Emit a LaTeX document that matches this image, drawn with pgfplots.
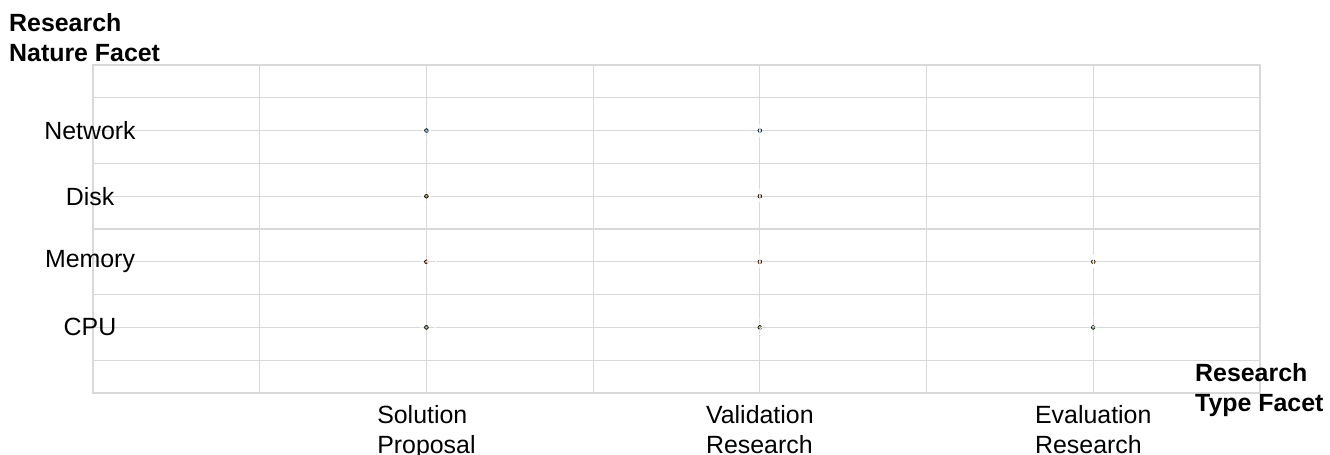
\documentclass[border=0pt]{standalone}
\usepackage{fontspec}
\setmainfont{Liberation Sans}
\usepackage{pgfplots}
\usepackage{pgfplotstable}
\pgfplotsset{compat=1.18}

\definecolor{gridgray}{RGB}{217,217,217}
\definecolor{netcol}{RGB}{60,130,200}
\definecolor{diskcol}{RGB}{120,90,20}
\definecolor{memcol}{RGB}{230,110,35}
\definecolor{cpucol}{RGB}{95,165,55}

% x = research type (1 solution, 2 validation, 3 evaluation), y = facet row, v = count, fs = label size
\pgfplotstableread{
x y v fs
1 2 15 52
2 2 2 28
3 2 3 32
}\cpudata
\pgfplotstableread{
x y v fs
1 4 10 56
2 4 1 21
3 4 1 21
}\memdata
\pgfplotstableread{
x y v fs
1 6 6 46
2 6 1 21
}\diskdata
\pgfplotstableread{
x y v fs
1 8 9 52
2 8 1 21
}\netdata

\pgfplotsset{
  bubble/.style={
    only marks, scatter, mark=ball,
    point meta=explicit,
    visualization depends on={14.6*sqrt(\thisrow{v}) \as \rad},
    visualization depends on={\thisrow{fs} \as \lsize},
    scatter/use mapped color={draw=none, fill=#1, ball color=#1},
    scatter/@pre marker code/.append style={/tikz/mark size=\rad},
    mark options={ball color=#1},
    nodes near coords={\fontsize{\lsize}{\lsize}\selectfont\bfseries\pgfmathprintnumber{\pgfplotspointmeta}},
    every node near coord/.append style={anchor=center, inner sep=0pt, text=white},
  },
}

\begin{document}
\begin{tikzpicture}
\begin{axis}[
  at={(93bp,62bp)}, anchor=south west,
  scale only axis, width=1167bp, height=328bp,
  xmin=0, xmax=3.5, ymin=0, ymax=10,
  xtick={0,0.5,...,3.5},
  xticklabels={,,{Solution\\Proposal},,{Validation\\Research},,{Evaluation\\Research},},
  ytick={0,...,10},
  yticklabels={,,CPU,,Memory,,Disk,,Network,,},
  grid=major,
  major grid style={draw=gridgray, line width=1.2bp},
  axis line style={draw=gridgray, line width=1.2bp},
  major tick length=0pt,
  tick style={draw=none},
  xticklabel style={align=left, anchor=north, inner sep=0pt, yshift=-12bp, font=\fontsize{25}{30}\selectfont},
  yticklabel style={anchor=center, inner sep=0pt, xshift=-3bp, font=\fontsize{25}{30}\selectfont},
  clip=false,
]
\addplot[bubble=cpucol] table[meta=v] {\cpudata};
\addplot[bubble=memcol] table[meta=v] {\memdata};
\addplot[bubble=diskcol] table[meta=v] {\diskdata};
\addplot[bubble=netcol] table[meta=v] {\netdata};
\end{axis}
\begin{scope}[font=\fontsize{25}{30}\selectfont\bfseries]
\node[anchor=base west, inner sep=0pt] at (9bp,423bp) {Research};
\node[anchor=base west, inner sep=0pt] at (9bp,393bp) {Nature Facet};
\node[anchor=base west, inner sep=0pt] at (1195bp,73bp) {Research};
\node[anchor=base west, inner sep=0pt] at (1195bp,43bp) {Type Facet};
\end{scope}
\pgfresetboundingbox
\path[use as bounding box] (0,0) rectangle (1330bp,455bp);
\end{tikzpicture}
\end{document}
